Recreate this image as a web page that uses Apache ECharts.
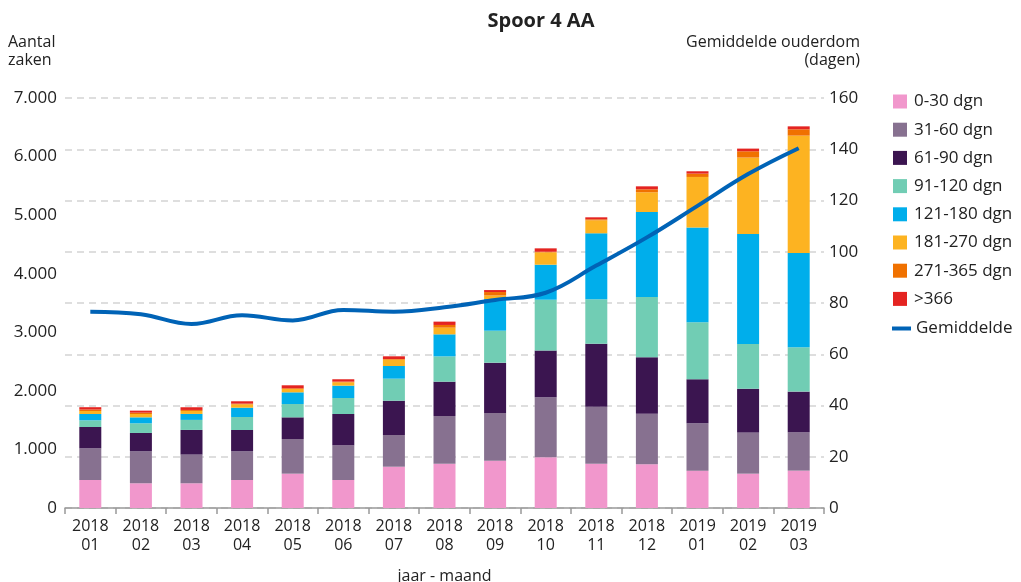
<!DOCTYPE html>
<html>
<head>
<meta charset="utf-8">
<script src="https://cdn.jsdelivr.net/npm/echarts@6/dist/echarts.min.js"></script>
<style>
html,body{margin:0;padding:0;background:#fff;}
#c{width:1021px;height:582px;}
</style>
</head>
<body>
<div id="c"></div>
<script>
const categories = ['2018\n01','2018\n02','2018\n03','2018\n04','2018\n05','2018\n06','2018\n07','2018\n08','2018\n09','2018\n10','2018\n11','2018\n12','2019\n01','2019\n02','2019\n03'];
const d0_30    = [478, 422, 422, 478, 586, 478, 705, 757, 808, 865, 757, 746, 638, 586, 638];
const d31_60   = [541, 546, 490, 490, 592, 592, 541, 814, 814, 1024, 973, 865, 808, 705, 654];
const d61_90   = [364, 313, 421, 364, 370, 535, 586, 586, 859, 802, 1076, 962, 751, 746, 695];
const d91_120  = [114, 165, 171, 222, 227, 273, 376, 432, 546, 865, 757, 1030, 973, 763, 756];
const d121_180 = [108, 102, 102, 159, 200, 211, 216, 376, 541, 598, 1127, 1451, 1617, 1878, 1610];
const d181_270 = [51, 57, 51, 57, 57, 57, 108, 114, 61, 211, 222, 336, 865, 1304, 2004];
const d271_365 = [25, 23, 17, 12, 12, 12, 12, 46, 58, 10, 17, 51, 57, 108, 108];
const d366     = [40, 34, 46, 40, 51, 40, 46, 57, 34, 58, 34, 51, 40, 46, 51];
const gemiddelde = [76.6, 75.6, 71.8, 75.2, 73.2, 77.3, 76.6, 78.3, 81.2, 84.0, 94.6, 105.6, 117.9, 130.3, 140.4];

const barNames = ['0-30 dgn','31-60 dgn','61-90 dgn','91-120 dgn','121-180 dgn','181-270 dgn','271-365 dgn','>366'];
const barData = [d0_30, d31_60, d61_90, d91_120, d121_180, d181_270, d271_365, d366];
const barColors = ['#f197cc','#877190','#3b1550','#71cdb4','#00aeeb','#fdb321','#f07100','#e42421'];
const lineColor = '#0063b6';
const font = 'Open Sans';
const txt = '#222';

const chart = echarts.init(document.getElementById('c'), null, {renderer:'canvas'});

const series = barNames.map((n,i)=>({
  name: n, type: 'bar', stack: 'tot', yAxisIndex: 0,
  barWidth: 22, data: barData[i],
  itemStyle: {color: barColors[i]},
  emphasis: {disabled: true}
}));
series.push({
  name: 'Gemiddelde', type: 'line', yAxisIndex: 1, data: gemiddelde,
  smooth: 0.4, symbol: 'none',
  lineStyle: {color: lineColor, width: 4},
  itemStyle: {color: lineColor},
  z: 10
});

chart.setOption({
  animation: false,
  backgroundColor: '#fff',
  textStyle: {fontFamily: font},
  title: {
    text: 'Spoor 4 AA', left: 536, top: 6, textAlign: 'center',
    textStyle: {fontFamily: font, fontSize: 20, fontWeight: 'bold', color: txt}
  },
  legend: [{
    orient: 'vertical', left: 888, top: 88,
    itemWidth: 14, itemHeight: 14, itemGap: 11.2,
    data: barNames.map(n=>({name:n, icon:'rect'})),
    textStyle: {fontFamily: font, fontSize: 17, color: txt, padding:[0,0,0,2]}
  },{
    orient: 'vertical', left: 887, top: 315,
    itemWidth: 19, itemHeight: 4,
    data: [{name:'Gemiddelde', icon:'rect', itemStyle:{color: lineColor}}],
    textStyle: {fontFamily: font, fontSize: 17, color: txt, padding:[0,0,0,0]}
  }],
  graphic: [
    {type:'text', x: 8, y: 33, style:{text:'Aantal\nzaken', fontFamily: font, fontSize: 16, lineHeight: 18, fill: txt}},
    {type:'text', x: 860, y: 33, style:{text:'Gemiddelde ouderdom', fontFamily: font, fontSize: 16, lineHeight: 18, fill: txt, align:'right'}},
    {type:'text', x: 860, y: 51, style:{text:'(dagen)', fontFamily: font, fontSize: 16, lineHeight: 18, fill: txt, align:'right'}}
  ],
  grid: {left: 65, right: 197, top: 98, bottom: 74, containLabel: false, outerBoundsMode: 'none'},
  xAxis: {
    type: 'category', data: categories,
    name: 'jaar - maand', nameLocation: 'middle', nameGap: 60,
    nameTextStyle: {fontFamily: font, fontSize: 16, color: txt},
    axisLine: {lineStyle: {color: '#999', width: 1.5}},
    axisTick: {show: true, length: 6, lineStyle: {color: '#999', width: 1.5}},
    axisLabel: {fontFamily: font, fontSize: 16, lineHeight: 19, color: txt, margin: 9, interval: 0}
  },
  yAxis: [{
    type: 'value', min: 0, max: 7000, interval: 1000,
    axisLine: {show: false}, axisTick: {show: false},
    splitLine: {show: false},
    axisLabel: {fontFamily: font, fontSize: 17, color: txt, margin: 8,
      formatter: v => v === 0 ? '0' : String(v).replace(/\B(?=(\d{3})+(?!\d))/g, '.')}
  },{
    type: 'value', min: 0, max: 160, interval: 20,
    axisLine: {show: false}, axisTick: {show: false},
    splitLine: {show: true, lineStyle: {color: '#d4d4d4', width: 1.5, type: [7,5]}},
    axisLabel: {fontFamily: font, fontSize: 17, color: txt, margin: 5}
  }],
  series: series
});
</script>
</body>
</html>
